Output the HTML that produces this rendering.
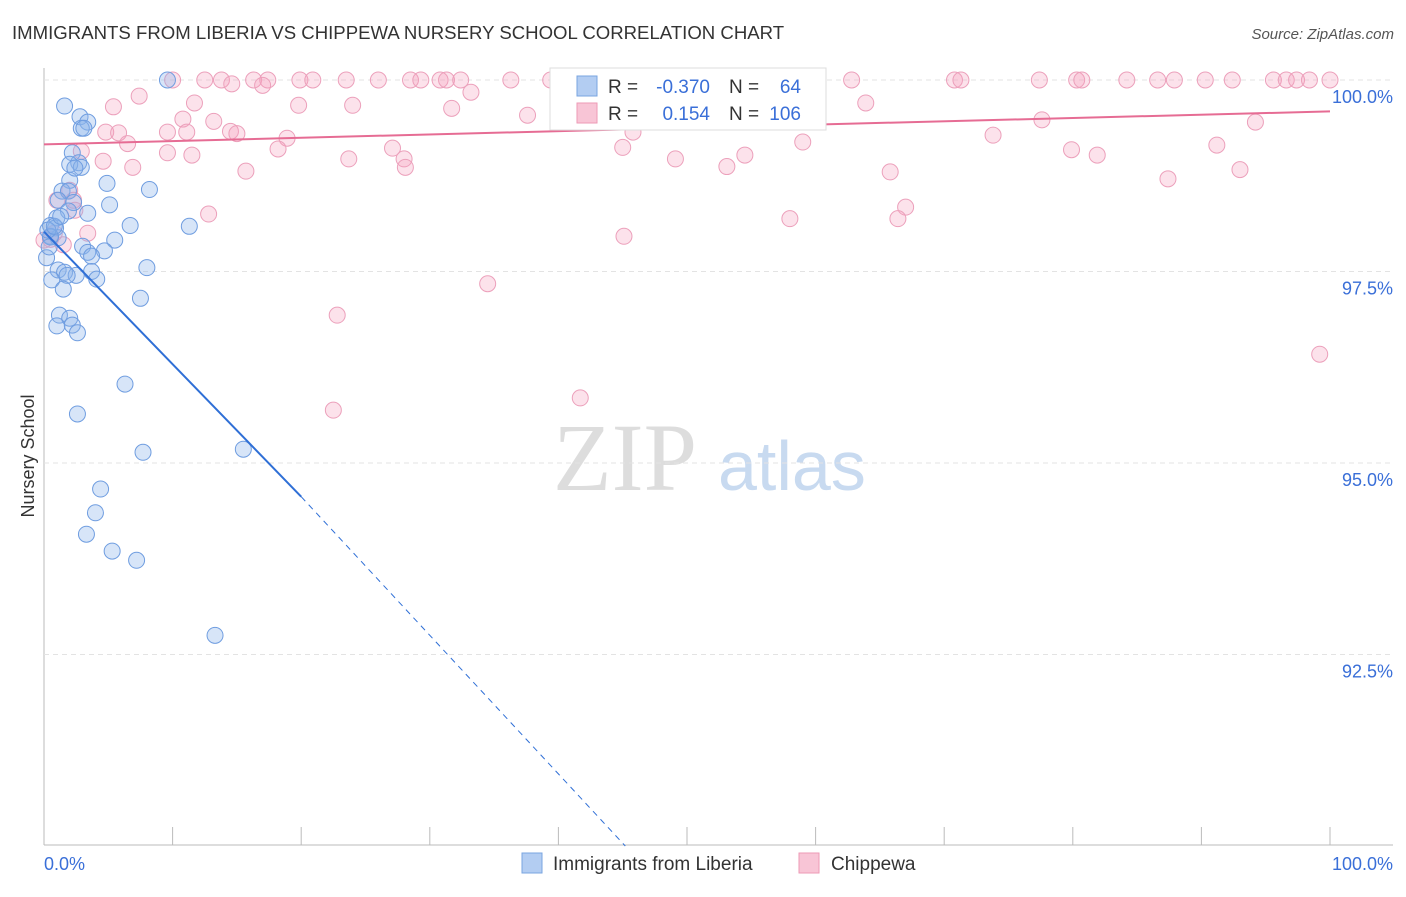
<!DOCTYPE html>
<html><head><meta charset="utf-8"><style>
body{margin:0;background:#fff;font-family:"Liberation Sans",sans-serif}
</style></head><body>
<svg id="c" width="1406" height="892" xmlns="http://www.w3.org/2000/svg">
<text x="12" y="39" font-size="18.6" fill="#333">IMMIGRANTS FROM LIBERIA VS CHIPPEWA NURSERY SCHOOL CORRELATION CHART</text>
<text x="1394" y="39" font-size="15" fill="#555" font-style="italic" text-anchor="end">Source: ZipAtlas.com</text>
<text x="34" y="456" font-size="18" fill="#333" transform="rotate(-90 34 456)" text-anchor="middle">Nursery School</text>
<text x="553" y="490" font-size="96" fill="#ddd" font-family="Liberation Serif">ZIP</text>
<text x="718" y="490" font-size="70" fill="#c8daf0">atlas</text>
<g id="grid"></g><g id="pts"></g><g id="trend"></g>
<g>
<rect x="550" y="68" width="276" height="62" fill="#fff" stroke="#ddd"/>
<rect x="577" y="76" width="20" height="20" fill="#b3cdf2" stroke="#7aa5e0"/>
<rect x="577" y="103" width="20" height="20" fill="#f8c5d6" stroke="#ee9ab6"/>
<text x="608" y="93" font-size="19" fill="#333">R =</text>
<text x="710" y="93" font-size="19" fill="#3a6fd8" text-anchor="end">-0.370</text>
<text x="729" y="93" font-size="19" fill="#333">N =</text>
<text x="801" y="93" font-size="19" fill="#3a6fd8" text-anchor="end">64</text>
<text x="608" y="120" font-size="19" fill="#333">R =</text>
<text x="710" y="120" font-size="19" fill="#3a6fd8" text-anchor="end">0.154</text>
<text x="729" y="120" font-size="19" fill="#333">N =</text>
<text x="801" y="120" font-size="19" fill="#3a6fd8" text-anchor="end">106</text>
</g>
<g>
<rect x="522" y="853" width="20" height="20" fill="#b3cdf2" stroke="#7aa5e0"/>
<text x="553" y="870" font-size="19" fill="#333">Immigrants from Liberia</text>
<rect x="799" y="853" width="20" height="20" fill="#f8c5d6" stroke="#ee9ab6"/>
<text x="831" y="870" font-size="19" fill="#333">Chippewa</text>
</g>
</svg>
<script>
const yTicks=[100,97.5,95,92.5];
const yTickLabels=["100.0%","97.5%","95.0%","92.5%"];
const xTickLabels=["0.0%","100.0%"];
const blueX=[9.6,1.6,2.8,3.4,2.9,3.1,2.2,2.7,2.0,2.9,2.0,4.9,8.2,1.4,1.9,1.1,5.1,2.3,1.9,3.4,1.0,6.7,11.3,0.5,0.9,0.5,1.1,5.5,3.0,3.4,4.7,3.7,0.2,8.0,1.1,1.6,3.7,2.5,1.8,0.6,4.1,1.5,7.5,1.2,2.0,2.2,1.0,2.6,6.3,2.6,15.5,7.7,4.4,4.0,3.3,5.3,7.2,13.3,0.5,0.3,0.8,1.3,0.4,2.4];
const blueY=[100,99.66,99.52,99.45,99.37,99.37,99.05,98.92,98.9,98.86,98.69,98.65,98.57,98.55,98.55,98.43,98.37,98.4,98.29,98.26,98.2,98.1,98.09,98.1,98.07,97.96,97.94,97.91,97.83,97.75,97.77,97.7,97.68,97.55,97.52,97.49,97.5,97.45,97.45,97.39,97.4,97.27,97.15,96.93,96.89,96.8,96.79,96.7,96.03,95.64,95.18,95.14,94.66,94.35,94.07,93.85,93.73,92.75,97.95,98.04,98.09,98.22,97.82,98.85];
const pinkX=[10,12.5,13.8,16.3,17.4,19.9,20.9,23.5,26,28.5,29.3,30.8,31.3,32.4,36.3,39.4,42.9,46.5,49.5,55.9,62.8,70.8,71.3,77.4,80.3,80.7,84.2,86.6,87.9,90.3,92.4,95.6,96.6,97.4,98.4,100,7.4,5.4,11.7,19.8,24,31.7,63.9,33.2,17,14.6,37.6,77.6,94.2,10.8,13.2,9.6,11.1,14.5,15,4.8,5.8,6.5,18.9,45.8,73.8,9.6,11.5,4.6,27.1,18.2,23.7,28,45,49.1,54.5,59,91.2,79.9,81.9,53.1,6.9,15.7,28.1,65.8,87.4,93,67,58,12.8,66.4,3.4,45.1,34.5,22.8,22.5,41.7,99.2,2.9,2,2.3,1,0.5,0.8,0,1.5,2.4];
const pinkY=[100,100,100,100,100,100,100,100,100,100,100,100,100,100,100,100,100,100,100,100,100,100,100,100,100,100,100,100,100,100,100,100,100,100,100,100,99.79,99.65,99.7,99.67,99.67,99.63,99.7,99.84,99.93,99.95,99.54,99.48,99.45,99.49,99.46,99.32,99.32,99.33,99.3,99.32,99.31,99.17,99.24,99.32,99.28,99.05,99.02,98.94,99.11,99.1,98.97,98.97,99.12,98.97,99.02,99.19,99.15,99.09,99.02,98.87,98.86,98.81,98.86,98.8,98.71,98.83,98.34,98.19,98.25,98.19,98.0,97.96,97.34,96.93,95.69,95.85,96.42,99.07,98.56,98.43,98.43,97.92,98.0,97.91,97.85,98.3];
const blueTrend=[0,98.02,20,94.56,45.2,90.0];
const pinkTrend=[0,99.16,100,99.59];
const NS="http://www.w3.org/2000/svg";
const sx=v=>44+v*12.86, sy=v=>80+(100-v)*76.6;
function mk(t,a,p){const e=document.createElementNS(NS,t);for(const k in a)e.setAttribute(k,a[k]);p.appendChild(e);return e;}
const g=document.getElementById('grid');
mk('line',{x1:44,y1:68,x2:44,y2:845,stroke:'#bbb'},g);
mk('line',{x1:44,y1:845,x2:1393,y2:845,stroke:'#bbb'},g);
for(let i=0;i<=10;i++){const l=mk('line',{x1:sx(i*10),y1:827,x2:sx(i*10),y2:845,stroke:'#bbb'},g);

}
yTicks.forEach((v,i)=>{const l=mk('line',{x1:44,y1:sy(v),x2:1393,y2:sy(v),stroke:'#e3e3e3','stroke-dasharray':'5,4'},g);


const t=mk('text',{x:1393,y:sy(v)+23,'font-size':18,fill:'#3a6fd8','text-anchor':'end'},g);t.textContent=yTickLabels[i];

});
[[44,'start'],[1393,'end']].forEach((p,i)=>{const t=mk('text',{x:p[0],y:870,'font-size':18,fill:'#3a6fd8','text-anchor':p[1]},g);t.textContent=xTickLabels[i];

});
const P=document.getElementById('pts');
pinkX.forEach((x,i)=>{const c=mk('circle',{cx:sx(x),cy:sy(pinkY[i]),r:8,fill:'rgba(244,160,190,0.3)',stroke:'#eca0bb','stroke-width':1},P);

});
blueX.forEach((x,i)=>{const c=mk('circle',{cx:sx(x),cy:sy(blueY[i]),r:8,fill:'rgba(140,180,235,0.35)',stroke:'#6f9de0','stroke-width':1},P);

});
const T=document.getElementById('trend');
let l=mk('line',{x1:sx(blueTrend[0]),y1:sy(blueTrend[1]),x2:sx(blueTrend[2]),y2:sy(blueTrend[3]),stroke:'#2f6fd6','stroke-width':2},T);


l=mk('line',{x1:sx(blueTrend[2]),y1:sy(blueTrend[3]),x2:sx(blueTrend[4]),y2:sy(blueTrend[5]),stroke:'#2f6fd6','stroke-width':1,'stroke-dasharray':'6,5'},T);


l=mk('line',{x1:sx(pinkTrend[0]),y1:sy(pinkTrend[1]),x2:sx(pinkTrend[2]),y2:sy(pinkTrend[3]),stroke:'#e66c94','stroke-width':2},T);


</script>
</body></html>
